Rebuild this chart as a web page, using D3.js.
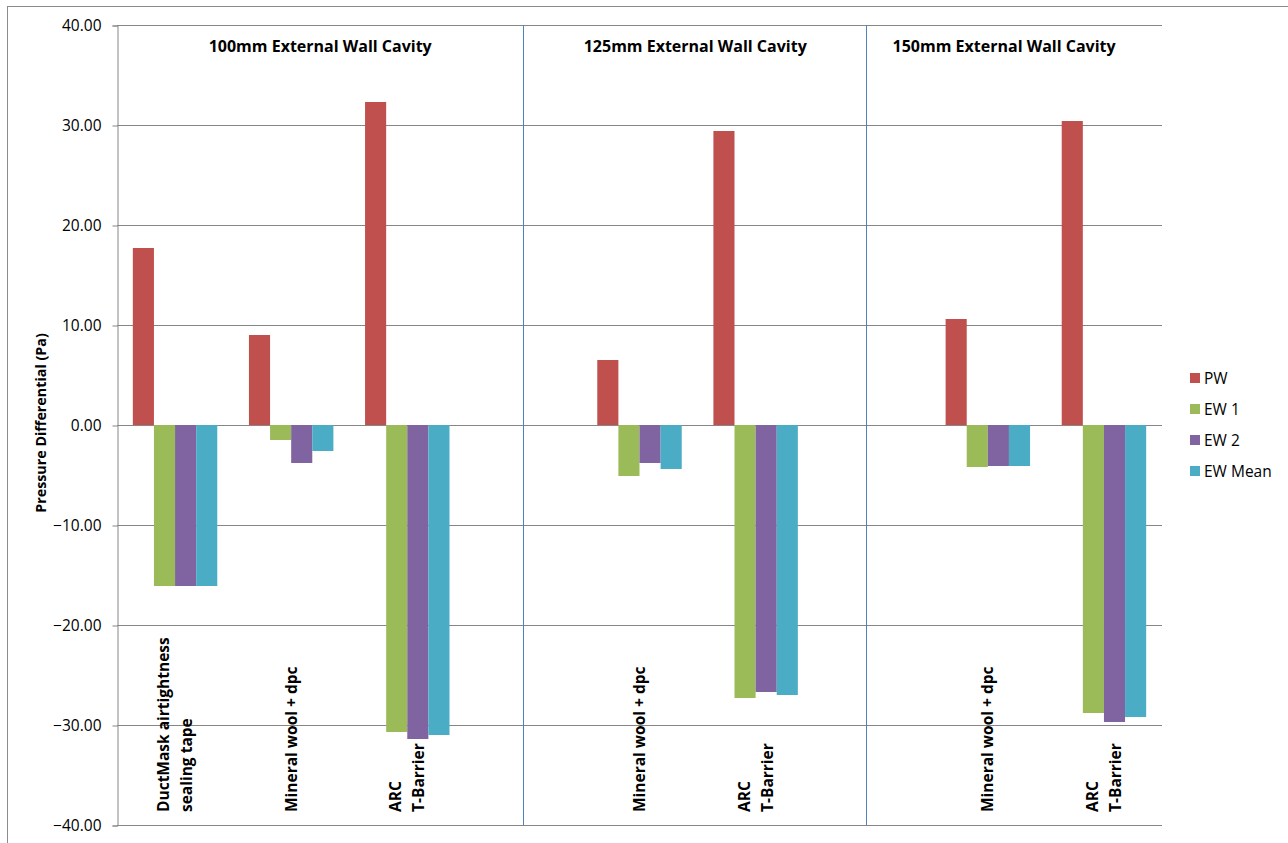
<!DOCTYPE html>
<html>
<head>
<meta charset="utf-8">
<script src="https://cdn.jsdelivr.net/npm/d3@7/dist/d3.min.js"></script>
<style>
  html, body { margin: 0; padding: 0; background: #fff; }
  svg { display: block; }
  text { font-family: "Open Sans", Lato, sans-serif; fill: #000; }
</style>
</head>
<body>
<svg id="chart" width="1288" height="843"></svg>
<script>
// ---- data ----
const categories = [
  ["DuctMask airtightness", "sealing tape"],
  ["Mineral wool + dpc"],
  ["ARC", "T-Barrier"],
  [],
  ["Mineral wool + dpc"],
  ["ARC", "T-Barrier"],
  [],
  ["Mineral wool + dpc"],
  ["ARC", "T-Barrier"]
];
const seriesNames = ["PW", "EW 1", "EW 2", "EW Mean"];
const seriesColors = ["#C0504D", "#9BBB59", "#8064A2", "#4BACC6"];
const PW     = [17.7,  9.0,  32.3, null,  6.5,  29.4, null, 10.6,  30.4];
const EW1    = [-16.1, -1.5, -30.7, null, -5.1, -27.3, null, -4.2, -28.8];
const EW2    = [-16.1, -3.8, -31.4, null, -3.8, -26.7, null, -4.1, -29.7];
const EWMean = [-16.1, -2.6, -31.0, null, -4.4, -27.0, null, -4.1, -29.2];
const yTicks = [40, 30, 20, 10, 0, -10, -20, -30, -40];
const groupTitles = ["100mm External Wall Cavity", "125mm External Wall Cavity", "150mm External Wall Cavity"];
const groupTitlePos = [1.75, 4.98, 7.64];    // in category units
const separatorPos = [3.5, 6.45];             // in category units
const yLabel = "Pressure Differential (Pa)";

const seriesValues = [PW, EW1, EW2, EWMean];

// ---- layout ----
const svg = d3.select("#chart");
const L = 117, R = 1162, T = 25, B = 825;

// outer frame
svg.append("rect").attr("x", 7.5).attr("y", 6.5).attr("width", 1290).attr("height", 860)
  .attr("fill", "none").attr("stroke", "#8c8c8c").attr("stroke-width", 1);

const y = d3.scaleLinear().domain([-40, 40]).range([B, T]);
const x0 = d3.scaleBand().domain(d3.range(categories.length)).range([L, R]).padding(0);
const x1 = d3.scaleBand().domain(d3.range(seriesNames.length)).range([0, x0.bandwidth()])
  .paddingInner(0).paddingOuter(0.75);
const xu = d3.scaleLinear().domain([0, categories.length]).range([L, R]);

// gridlines
svg.append("g").selectAll("line").data(yTicks).join("line")
  .attr("x1", L).attr("x2", R)
  .attr("y1", d => Math.round(y(d)) + 0.5).attr("y2", d => Math.round(y(d)) + 0.5)
  .attr("stroke", "#868686").attr("stroke-width", 1);

// y axis
const yAxis = d3.axisLeft(y).tickValues(yTicks).tickFormat(d3.format(".2f")).tickSize(5).tickPadding(11);
const gy = svg.append("g").attr("transform", `translate(${L + 0.5},0.5)`).call(yAxis);
gy.select(".domain").attr("stroke", "#868686");
gy.selectAll(".tick line").attr("stroke", "#868686");
gy.selectAll(".tick text").attr("font-size", 15.5).attr("font-family", "'Open Sans', Lato, sans-serif").attr("fill", "#000");

// separators
svg.append("g").selectAll("line").data(separatorPos).join("line")
  .attr("x1", d => Math.round(xu(d)) + 0.5).attr("x2", d => Math.round(xu(d)) + 0.5)
  .attr("y1", T).attr("y2", B)
  .attr("stroke", "#4F81BD").attr("stroke-width", 1);

// bars
const barData = [];
categories.forEach((c, i) => {
  seriesValues.forEach((vals, s) => {
    if (vals[i] !== null) barData.push({ cat: i, s, v: vals[i] });
  });
});
svg.append("g").selectAll("rect").data(barData).join("rect")
  .attr("x", d => x0(d.cat) + x1(d.s))
  .attr("width", x1.bandwidth())
  .attr("y", d => y(Math.max(0, d.v)))
  .attr("height", d => Math.abs(y(d.v) - y(0)))
  .attr("fill", d => seriesColors[d.s]);

// group titles
svg.append("g").selectAll("text").data(groupTitles).join("text")
  .attr("x", (d, i) => xu(groupTitlePos[i]))
  .attr("y", 52)
  .attr("text-anchor", "middle")
  .attr("font-size", 16).attr("font-weight", "bold")
  .text(d => d);

// category labels (rotated)
const catG = svg.append("g");
categories.forEach((lines, i) => {
  if (!lines.length) return;
  const cx = x0(i) + x0.bandwidth() / 2;
  const lh = 23;
  const t = catG.append("text")
    .attr("transform", `translate(${cx},812) rotate(-90)`)
    .attr("text-anchor", "start")
    .attr("font-size", 15.5).attr("font-weight", "bold");
  lines.forEach((ln, k) => {
    const off = (k - (lines.length - 1) / 2) * lh + 5.5;
    t.append("tspan").attr("x", 0).attr("y", off).text(ln);
  });
});

// y label
svg.append("text")
  .attr("transform", `translate(46,423) rotate(-90)`)
  .attr("text-anchor", "middle")
  .attr("font-size", 14.3).attr("font-weight", "bold")
  .text(yLabel);

// legend
const lg = svg.append("g").attr("transform", "translate(1190,378)");
const li = lg.selectAll("g").data(seriesNames).join("g")
  .attr("transform", (d, i) => `translate(0,${i * 31})`);
li.append("rect").attr("x", 0).attr("y", -5).attr("width", 10).attr("height", 10)
  .attr("fill", (d, i) => seriesColors[i]);
li.append("text").attr("x", 14).attr("y", 5.5).attr("font-size", 15.5).text(d => d);
</script>
</body>
</html>
